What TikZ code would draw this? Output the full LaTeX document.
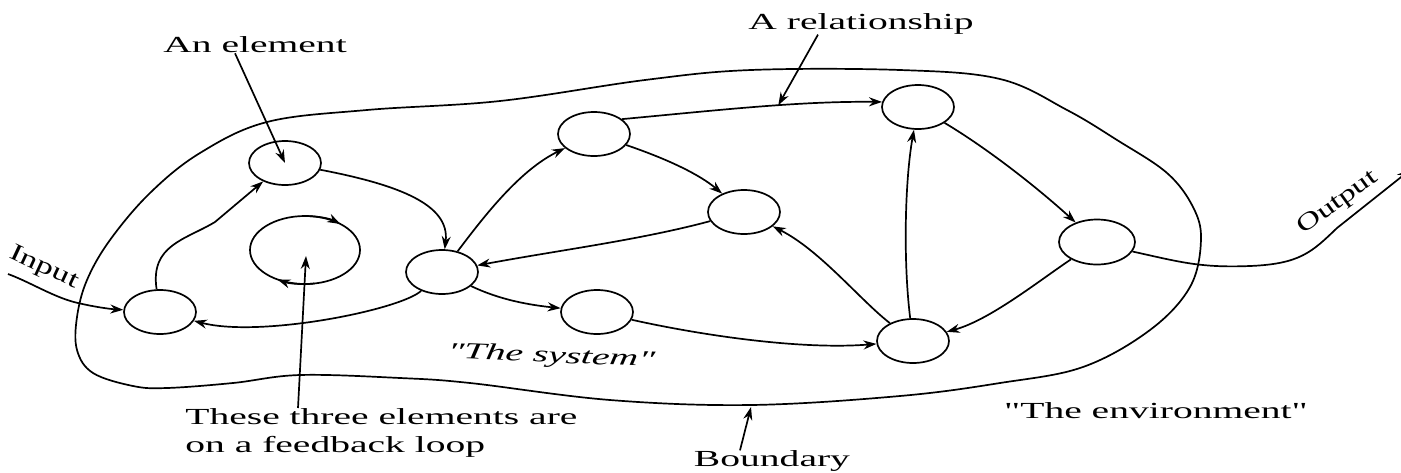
\documentclass[tikz,border=0pt]{standalone}
\usepackage{fontspec}
\setmainfont{Liberation Serif}
\usetikzlibrary{shapes.geometric,arrows.meta}
\begin{document}
\begin{tikzpicture}[x=1pt,y=-1pt,
  el/.style={draw, ellipse, line width=1.7pt, minimum width=72pt, minimum height=44pt, inner sep=0pt},
  conn/.style={line width=1.7pt},
  arr/.style={conn, -{Stealth[length=13pt,width=9pt]}},
  lbl/.style={font=\fontsize{23}{28}\selectfont, inner sep=0pt, xscale=1.72},
]
\useasboundingbox (0,0) rectangle (1401,472);

% elements
\node[el] (A) at (285,163) {};
\node[el] (B) at (160,312) {};
\node[el] (C) at (442,272) {};
\node[el] (D) at (594,134) {};
\node[el] (E) at (744,212) {};
\node[el] (F) at (597,312) {};
\node[el] (G) at (918,107) {};
\node[el] (H) at (913,341) {};
\node[el, minimum width=76pt, minimum height=45pt] (I) at (1097,242) {};

% boundary
\draw[conn] plot[smooth cycle, tension=0.6] coordinates {(267,122) (367,110) (500,101) (645,80) (751,70) (900,70) (1000,79) (1067,110) (1117,140) (1167,173) (1193,207) (1201,240) (1190,287) (1150,330) (1083,367) (1000,383) (900,396) (751,405) (610,400) (470,383) (400,378) (300,375) (233,383) (167,388) (133,386) (93,373) (77,350) (77,317) (87,280) (110,240) (150,193) (200,153)};

% feedback loop
\coordinate (loopc) at (306,256);
\draw[conn] (305,250) ellipse [x radius=55, y radius=34];
\draw[arr] (305,216) arc[start angle=-90, end angle=-50, x radius=55, y radius=34];
\draw[arr] (314.5,283.5) arc[start angle=80, end angle=120, x radius=55, y radius=34];

% relationships
\draw[arr] (B) .. controls (150,245) and (185,240) .. (215,222) -- (A);
\draw[arr] (A) .. controls (400,185) and (450,205) .. (C);
\draw[arr] (C) .. controls (400,310) and (260,338) .. (B);
\draw[arr] (C) .. controls (485,215) and (520,170) .. (D);
\draw[arr] (D) .. controls (670,160) and (700,175) .. (E);
\draw[arr] (E) .. controls (640,240) and (560,250) .. (C);
\draw[arr] (D.28) .. controls (720,110) and (800,101) .. coordinate[pos=0.58] (rel) (G.172);
\draw[arr] (C) .. controls (500,300) and (530,305) .. (F);
\draw[arr] (F) .. controls (700,335) and (800,350) .. (H);
\draw[arr] (H) .. controls (860,300) and (820,250) .. (E);
\draw[arr] (H) .. controls (903,260) and (905,180) .. (G);
\draw[arr] (G) .. controls (990,150) and (1040,190) .. (I);
\draw[arr] (I) .. controls (1040,280) and (990,320) .. (H);

% input / output
\coordinate (inbeg) at (8,274);
\draw[arr] (inbeg) .. controls (30,282) and (55,298) .. (78,303) .. controls (95,307) and (110,309) .. (B);
\coordinate (outend) at (1410,170);
\draw[arr] (I.-15) .. controls (1180,262) and (1200,268) .. (1250,266) .. controls (1300,264) and (1312,252) .. (1337,228) -- (outend);

% labels
\node[lbl] (el) at (255,45) {An element};
\draw[arr] ([xshift=-20pt]el.south) -- (A.center);
\node[lbl] (rl) at (861,24) {A relationship};
\draw[arr] ([xshift=-43pt]rl.south) -- (rel);
\node[lbl, align=left, anchor=north west] (fb) at (185,408) {These three elements are\\on a feedback loop};
\draw[arr] ([xshift=113pt]fb.north west) -- (loopc);
\node[lbl] (bnd) at (772,461) {Boundary};
\coordinate (bpt) at (751,407);
\draw[arr] ([xshift=-32pt]bnd.north) -- (bpt);
\node[lbl, font=\fontsize{23}{28}\selectfont\itshape, rotate=-4] (sys) at (551,357) {\textquotedbl The system\textquotedbl};
\node[lbl] (env) at (1156,411) {\textquotedbl The environment\textquotedbl};
\node[font=\fontsize{24}{28}\selectfont, inner sep=0pt, rotate=-25] (inp) at (44,268) {\scalebox{1.45}[1]{Input}};
\node[font=\fontsize{24}{28}\selectfont, inner sep=0pt, rotate=36] (outp) at (1338,203) {\scalebox{1.4}[1]{Output}};
\end{tikzpicture}
\end{document}
